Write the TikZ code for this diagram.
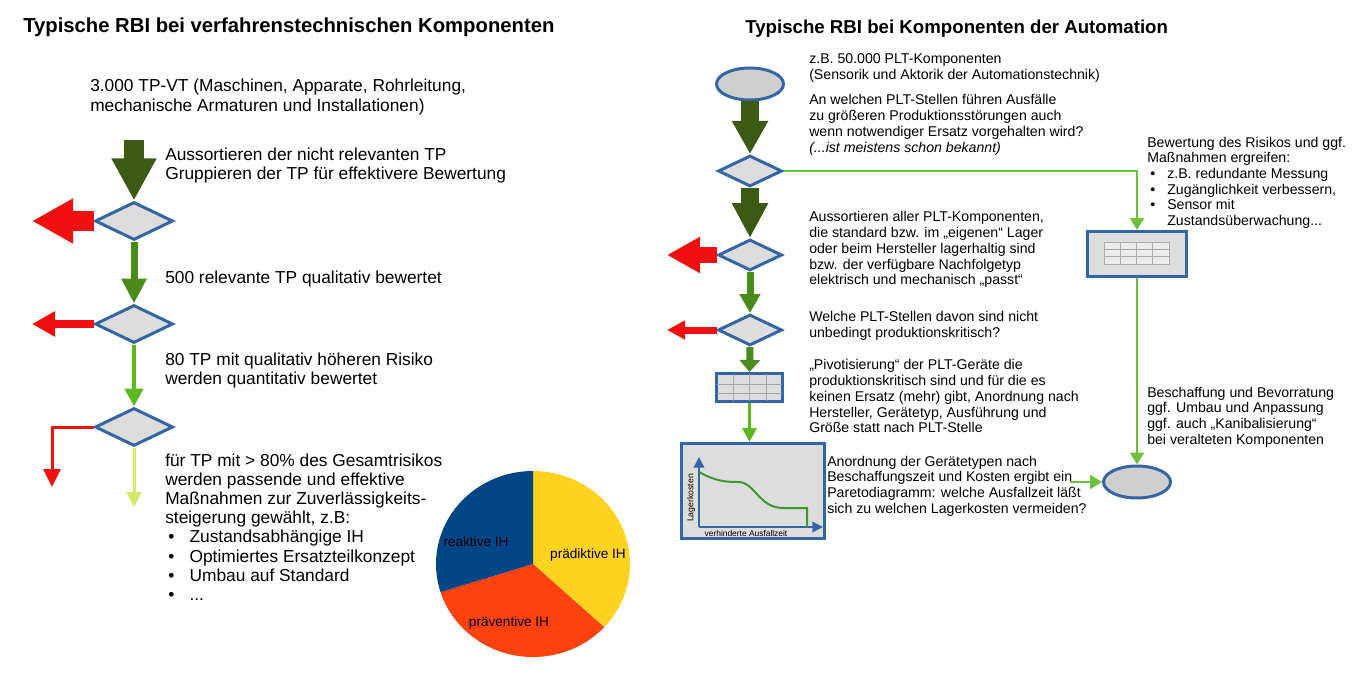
\documentclass[tikz,border=0pt]{standalone}
\usepackage{fontspec}
\setmainfont{Liberation Sans}
\usetikzlibrary{arrows.meta,shapes.geometric,calc}
\definecolor{bl}{HTML}{3465A4}
\definecolor{dg}{HTML}{3C5A14}
\definecolor{mg}{HTML}{4A8B1C}
\definecolor{lg}{HTML}{5EB91E}
\definecolor{lnk}{HTML}{6CC13A}
\definecolor{yg}{HTML}{D4EA6B}
\definecolor{rd}{HTML}{F01010}
\definecolor{fillg}{HTML}{DDDDDD}
\definecolor{elg}{HTML}{CFCFCF}
\definecolor{pieblue}{HTML}{004586}
\definecolor{pieorange}{HTML}{FF420E}
\definecolor{pieyellow}{HTML}{FFD320}
\definecolor{curve}{HTML}{3A9A2A}
\tikzset{
  dia/.style={diamond, draw=bl, line width=2.25pt, fill=fillg, inner sep=0pt, minimum width=58.5pt, minimum height=28.5pt},
  rdia/.style={diamond, draw=bl, line width=2.25pt, fill=fillg, inner sep=0pt, minimum width=48pt, minimum height=23.25pt},
  ell/.style={ellipse, draw=bl, line width=2.25pt, fill=elg, inner sep=0pt, minimum width=50.25pt, minimum height=24pt},
  boxr/.style={rectangle, draw=bl, line width=2.25pt, fill=fillg, inner sep=0pt},
  txtL/.style={anchor=base west, inner sep=0pt, align=left, font=\fontsize{13}{14.4}\selectfont},
  txtR/.style={anchor=base west, inner sep=0pt, align=left, font=\fontsize{10.6}{11.8}\selectfont},
  ttl/.style={anchor=base west, inner sep=0pt, font=\fontsize{#1}{17}\selectfont\bfseries},
  pielbl/.style={inner sep=0pt, font=\fontsize{10.2}{11}\selectfont},
  conn/.style args={#1/#2/#3/#4}{draw=#1, line width=#2, -{Triangle[width=#3,length=#4]}},
}
\begin{document}
\begin{tikzpicture}[x=0.75pt,y=-0.75pt]
\fill[white] (0,0) rectangle (1366,681);
\useasboundingbox (0,0) rectangle (1366,681);

% ---------------- left part ----------------
% (multi-line nodes: base anchor = baseline of the last line)
\node[ttl=15.2] (tl) at (23,33) {Typische RBI bei verfahrenstechnischen Komponenten};
\node[txtL] (l1) at (90,111.2) {3.000 TP-VT (Maschinen, Apparate, Rohrleitung,\\mechanische Armaturen und Installationen)};
\node[txtL] (l2) at (165,179.7) {Aussortieren der nicht relevanten TP\\Gruppieren der TP für effektivere Bewertung};
\node[txtL] (l3) at (165,283) {500 relevante TP qualitativ bewertet};
\node[txtL] (l4) at (165,384.7) {80 TP mit qualitativ höheren Risiko\\werden quantitativ bewertet};
\node[txtL] (l5) at (165,600.5) {für TP mit > 80\% des Gesamtrisikos\\werden passende und effektive\\Maßnahmen zur Zuverlässigkeits-\\steigerung gewählt, z.B:\\
\hspace*{2.25pt}\makebox[16pt][l]{•}Zustandsabhängige IH\\
\hspace*{2.25pt}\makebox[16pt][l]{•}Optimiertes Ersatzteilkonzept\\
\hspace*{2.25pt}\makebox[16pt][l]{•}Umbau auf Standard\\
\hspace*{2.25pt}\makebox[16pt][l]{•}...};

\node[dia] (d1) at (134,221) {};
\node[dia] (d2) at (134,324) {};
\node[dia] (d3) at (134,427) {};
\coordinate (a0) at (134,140);
\coordinate (r1) at (32,221);
\coordinate (r2) at (32,324);
\coordinate (r3) at (52,487);
\coordinate (g3) at (134,507);

\draw[conn={dg/15pt/31.5pt/31.5pt}] (a0) -- (d1.north);
\draw[conn={rd/15pt/31.5pt/30.75pt}] (d1.west) -- (r1);
\draw[conn={mg/5.25pt/18pt/18.75pt}] (d1.south) -- (d2.north);
\draw[conn={rd/6pt/18pt/17.25pt}] (d2.west) -- (r2);
\draw[conn={lg/3.4pt/13.5pt/13.5pt}] (d2.south) -- (d3.north);
\draw[conn={rd/2.25pt/12.75pt/13.5pt}] (d3.west) -| (r3);
\draw[conn={yg/2.25pt/11.25pt/11.25pt}] (d3.south) -- (g3);

% pie
\coordinate (pc) at (533,564);
\fill[pieyellow] (pc) -- ++(-90:97 and 93) arc[start angle=-90, end angle=42.8, x radius=97, y radius=93] -- cycle;
\fill[pieorange] (pc) -- ++(42.8:97 and 93) arc[start angle=42.8, end angle=162.4, x radius=97, y radius=93] -- cycle;
\fill[pieblue] (pc) -- ++(162.4:97 and 93) arc[start angle=162.4, end angle=270, x radius=97, y radius=93] -- cycle;
\node[pielbl] (p1) at (476,542) {reaktive IH};
\node[pielbl] (p2) at (588,555) {prädiktive IH};
\node[pielbl] (p3) at (509,623) {präventive IH};

% ---------------- right part ----------------
\node[ttl=14] (tr) at (745,34) {Typische RBI bei Komponenten der Automation};
\node[txtR] (t1) at (809,79.7) {z.B. 50.000 PLT-Komponenten\\(Sensorik und Aktorik der Automationstechnik)};
\node[txtR] (t2) at (809,152.2) {An welchen PLT-Stellen führen Ausfälle\\zu größeren Produktionsstörungen auch\\wenn notwendiger Ersatz vorgehalten wird?\\\textit{(...ist meistens schon bekannt)}};
\node[txtR] (t3) at (809,284.9) {Aussortieren aller PLT-Komponenten,\\die standard bzw. im „eigenen“ Lager\\oder beim Hersteller lagerhaltig sind\\bzw. der verfügbare Nachfolgetyp\\elektrisch und mechanisch „passt“};
\node[txtR] (t4) at (809,337.7) {Welche PLT-Stellen davon sind nicht\\unbedingt produktionskritisch?};
\node[txtR] (t5) at (809,432.9) {„Pivotisierung“ der PLT-Geräte die\\produktionskritisch sind und für die es\\keinen Ersatz (mehr) gibt, Anordnung nach\\Hersteller, Gerätetyp, Ausführung und\\Größe statt nach PLT-Stelle};
\node[txtR] (t6) at (827,513.2) {Anordnung der Gerätetypen nach\\Beschaffungszeit und Kosten ergibt ein\\Paretodiagramm: welche Ausfallzeit läßt\\sich zu welchen Lagerkosten vermeiden?};
\node[txtR] (t7) at (1147,225.7) {Bewertung des Risikos und ggf.\\Maßnahmen ergreifen:\\
\hspace*{2.25pt}\makebox[12.75pt][l]{•}z.B. redundante Messung\\
\hspace*{2.25pt}\makebox[12.75pt][l]{•}Zugänglichkeit verbessern,\\
\hspace*{2.25pt}\makebox[12.75pt][l]{•}Sensor mit\\
\hspace*{15pt}Zustandsüberwachung...};
\node[txtR] (t8) at (1147,444.2) {Beschaffung und Bevorratung\\ggf. Umbau und Anpassung\\ggf. auch „Kanibalisierung“\\bei veralteten Komponenten};

\node[ell] (e1) at (750,84) {};
\node[rdia] (rd1) at (750,171) {};
\node[rdia] (rd2) at (750,255) {};
\node[rdia] (rd3) at (750,330) {};
\node[boxr, minimum width=49.5pt, minimum height=21pt] (tbl) at (749.5,387.5) {};
\draw[gray!70, line width=0.5pt] (733,374) -- (733,401) (749.5,374) -- (749.5,401) (766,374) -- (766,401)
  (717,384) -- (782,384) (717,393.5) -- (782,393.5);
\node[boxr, minimum width=107.25pt, minimum height=71.25pt] (chart) at (753,491) {};
\node[boxr, minimum width=74.25pt, minimum height=33.75pt] (tbl2) at (1137,254) {};
\fill[gray!15] (1104,242) rectangle (1169,264);
\draw[gray!65, line width=0.5pt] (1104,242) rectangle (1169,264)
  (1120.25,242) -- (1120.25,264) (1136.5,242) -- (1136.5,264) (1152.75,242) -- (1152.75,264)
  (1104,249.3) -- (1169,249.3) (1104,256.7) -- (1169,256.7);
\node[ell] (e2) at (1137,482) {};

\coordinate (rr1) at (667,255);
\coordinate (rr2) at (667,330);
\coordinate (g6) at (1070,482);

\draw[conn={dg/13.5pt/25.5pt/24.75pt}] (e1.south) -- (rd1.north);
\draw[conn={dg/13.5pt/25.5pt/26.25pt}] (rd1.south) -- (rd2.north);
\draw[conn={rd/12pt/25.5pt/24.75pt}] (rd2.west) -- (rr1);
\draw[conn={mg/5.25pt/15pt/14.25pt}] (rd2.south) -- (rd3.north);
\draw[conn={rd/5.25pt/13.5pt/13.5pt}] (rd3.west) -- (rr2);
\draw[conn={mg/5.25pt/15pt/9pt}] (rd3.south) -- (tbl.north);
\draw[conn={lg/2.25pt/10.5pt/10.5pt}] (tbl.south) -- (tbl.south |- chart.north);
\draw[conn={lnk/1.5pt/10.5pt/9pt}] (rd1.east) -| (tbl2.north);
\draw[conn={lnk/1.5pt/10.5pt/9pt}] (tbl2.south) -- (e2.north);
\draw[conn={lnk/1.5pt/10.5pt/9pt}] (g6) -- (e2.west);

% chart icon
\draw[bl, line width=1.1pt, -{Triangle[width=8pt,length=8pt]}] (699,527) -- (699,457);
\draw[bl, line width=1.1pt, -{Triangle[width=8pt,length=8pt]}] (699,527) -- (823,527);
\draw[curve, line width=1.5pt] (699,472) .. controls (715,481) and (725,482) .. (738,482)
  .. controls (755,482) and (758,507) .. (782,508) -- (807,508) -- (807,527);
\node[inner sep=0pt, rotate=90, font=\fontsize{6.5}{7}\selectfont] (ylab) at (691,498) {Lagerkosten};
\node[inner sep=0pt, font=\fontsize{6.3}{7}\selectfont] (xlab) at (746,533.5) {verhinderte Ausfallzeit};
\end{tikzpicture}
\end{document}
